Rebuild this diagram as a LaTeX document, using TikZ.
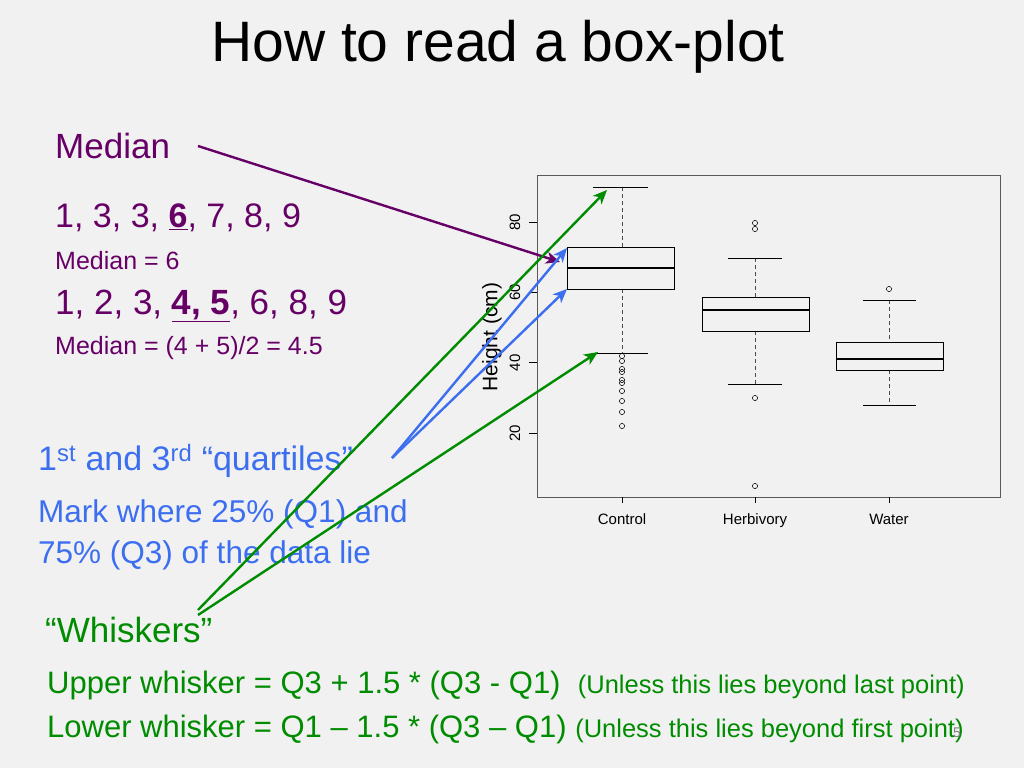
\documentclass[tikz,border=0pt]{standalone}
\usepackage{fontspec}
\setmainfont{Liberation Sans}
\usetikzlibrary{arrows.meta}
\definecolor{bg}{RGB}{241,241,241}
\definecolor{purp}{RGB}{102,0,102}
\definecolor{qblue}{RGB}{60,110,240}
\definecolor{wgreen}{RGB}{0,140,0}
\newcommand{\fs}[1]{\fontsize{#1}{#1}\selectfont}
\tikzset{
  lbl/.style={anchor=west,inner sep=0pt},
  arr/.style={-{Stealth[length=14pt,width=12pt,inset=4pt]},line width=2.4pt},
  whisk/.style={dashed,dash pattern=on 4pt off 3pt,gray!60!black},
  outl/.style={draw=black,line width=0.5pt}
}
\begin{document}
\begin{tikzpicture}[x=1pt,y=-1pt]
\fill[bg] (0,0) rectangle (1024,768);
\useasboundingbox (0,0) rectangle (1024,768);

\node (title) at (498,47) {\fs{57}How to read a box-plot};

% left texts
\node[lbl,purp] (med) at (55,146) {\fs{35}Median};
\node[lbl,purp] (odd) at (55,218) {\fs{34}1, 3, 3, \underline{\textbf{6}}, 7, 8, 9};
\node[lbl,purp] (medodd) at (55,261) {\fs{25}Median = 6};
\node[lbl,purp] (even) at (55,306) {\fs{35}1, 2, 3, \underline{\textbf{4, 5}}, 6, 8, 9};
\node[lbl,purp] (medeven) at (55,348) {\fs{25}Median = (4 + 5)/2 = 4.5};
\node[lbl,qblue] (quart) at (38,461) {\fs{34}1\textsuperscript{st} and 3\textsuperscript{rd} “quartiles”};
\node[lbl,qblue] (mark1) at (38,514) {\fs{31.5}Mark where 25\% (Q1) and};
\node[lbl,qblue] (mark2) at (38,555) {\fs{31.5}75\% (Q3) of the data lie};
\node[lbl,wgreen] (whk) at (45,630) {\fs{35}“Whiskers”};
\node[lbl,wgreen] (up) at (47,685) {\fs{31}Upper whisker = Q3 + 1.5 * (Q3 - Q1)\ \ \fs{25.5}(Unless this lies beyond last point)};
\node[lbl,wgreen] (low) at (47,729) {\fs{31}Lower whisker = Q1 – 1.5 * (Q3 – Q1)\ \fs{25.5}(Unless this lies beyond first point)};
\node[gray] (pg) at (957,733) {\fs{14}5};

% plot frame and axes
\draw[gray!70!black,line width=0.8pt] (537,175) rectangle (1000,497);
\foreach \v in {20,40,60,80}{
  \draw (537,{222+(80-\v)*3.517}) -- (529,{222+(80-\v)*3.517});
  \node[rotate=90,inner sep=0pt] at (515,{222+(80-\v)*3.517}) {\fs{15}\v};
}
\node[rotate=90] (ylab) at (492,337) {\fs{21}Height (cm)};
\foreach \x/\t in {622/Control,755/Herbivory,889/Water}{
  \draw (\x,497) -- (\x,503);
  \node[anchor=base] at (\x,524) {\fs{15}\t};
}

% Control
\draw[whisk] (622,187) -- (622,247) (622,289) -- (622,353);
\draw (593,187) -- (648,187) (593,353) -- (648,353);
\draw[fill=bg] (567,247) rectangle (674,289);
\draw[line width=2pt] (567,268) -- (674,268);
\foreach \y in {356,361,369,372,380,383,391,401,412,426}
  \draw[outl] (622,\y) circle (2.6);
% Herbivory
\draw[whisk] (755,258) -- (755,297) (755,331) -- (755,384);
\draw (728,258) -- (782,258) (728,384) -- (782,384);
\draw[fill=bg] (702,297) rectangle (809,331);
\draw[line width=2pt] (702,310) -- (809,310);
\foreach \y in {223,229,398,486}
  \draw[outl] (755,\y) circle (2.6);
% Water
\draw[whisk] (889,300) -- (889,342) (889,370) -- (889,405);
\draw (863,300) -- (916,300) (863,405) -- (916,405);
\draw[fill=bg] (836,342) rectangle (943,370);
\draw[line width=2pt] (836,359) -- (943,359);
\draw[outl] (889,289) circle (2.6);

% arrows
\coordinate (medtip) at (560,262);
\coordinate (q3tip) at (567,248);
\coordinate (q1tip) at (567,289);
\coordinate (uptip) at (607,190);
\coordinate (lowtip) at (598,352);
\draw[arr,purp] (198,146) -- (medtip);
\draw[arr,qblue] (392,458) -- (q3tip);
\draw[arr,qblue] (392,458) -- (q1tip);
\draw[arr,wgreen] (198,610) -- (uptip);
\draw[arr,wgreen] (198,615) -- (lowtip);
\end{tikzpicture}
\end{document}
